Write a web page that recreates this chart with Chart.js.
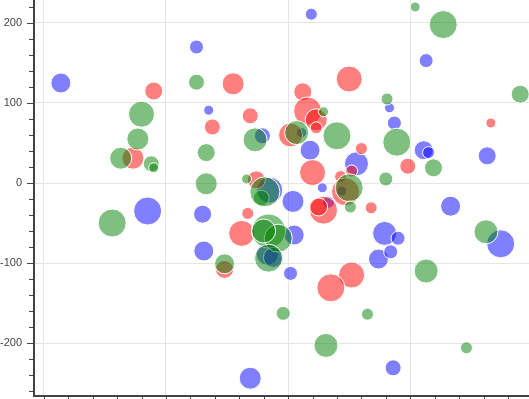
<!DOCTYPE html>
<html>
<head>
<meta charset="utf-8">
<script src="https://cdn.jsdelivr.net/npm/chart.js@4.4.1/dist/chart.umd.min.js"></script>
<style>
  html, body { margin: 0; padding: 0; background: #fff; overflow: hidden; }
  #wrap { width: 529px; height: 399px; }
</style>
</head>
<body>
<div id="wrap"><canvas id="chart" width="529" height="399"></canvas></div>
<script>
// bubbles: [x, y, radius]
const greenBubbles = [
  [104, 220, 5], [127, 198, 14], [190, 111, 9], [-75, 126, 8], [-120, 86, 13],
  [-123, 55, 11], [-137, 31, 11], [-112, 24, 8], [-110, 19, 5], [-67, 38, 9],
  [-67, -1, 11], [-27, 54, 12], [-34, 5, 5], [-144, -50, 14], [-52, -101, 10],
  [81, 105, 6], [40, 59, 14], [89, 51, 14], [119, 19, 9], [80, 5, 7],
  [162, -61, 12], [113, -110, 12], [-4, -163, 7], [65, -164, 6], [31, -203, 12],
  [146, -206, 6], [7, 63, 12], [29, 89, 5], [50, -6, 14], [51, -30, 6],
  [-16, -60, 17], [-8, -69, 14], [-20, -60, 12], [-16, -94, 14], [-22, -19, 8],
  [-19, -11, 15]
];
const redBubbles = [
  [-110, 115, 9], [-127, 31, 11], [-45, 124, 11], [-31, 84, 8], [-62, 70, 8],
  [50, 130, 13], [12, 114, 9], [16, 90, 14], [23, 79, 11], [23, 69, 6],
  [2, 60, 12], [60, 43, 6], [98, 21, 8], [166, 75, 5], [20, 13, 13],
  [43, 8, 6], [52, 15, 6], [47, -11, 14], [68, -31, 6], [29, -34, 14],
  [25, -30, 9], [-33, -38, 6], [-38, -63, 13], [-52, -108, 9], [52, -115, 13],
  [35, -131, 14], [-26, 4, 9]
];
const blueBubbles = [
  [-186, 125, 10], [-75, 170, 7], [19, 211, 6], [113, 153, 7], [-65, 91, 5],
  [-21, 59, 8], [83, 94, 5], [87, 75, 7], [111, 41, 9.5], [115, 38, 6],
  [163, 34, 9], [18, 41, 10], [56, 24, 12], [28, -6, 5], [-115, -35, 14],
  [-70, -39, 9], [-69, -85, 10], [4, -23, 11], [5, -65, 10], [2, -113, 7],
  [-17, -89, 11], [-12, -93, 10], [-15, -9, 13], [79, -63, 12], [90, -69, 7],
  [74, -95, 10], [84, -86, 7], [133, -29, 10], [174, -76, 14], [-31, -244, 11],
  [86, -231, 8], [11, 63, 5], [44, -10, 5], [33, -24, 6]
];

const xTicks = [-200, -100, 0, 100];
const yTicks = [-200, -100, 0, 100, 200];
const xRange = [-208, 197.2];
const yRange = [-266.25, 228.75];

const toPoints = list => list.map(([x, y, r]) => ({ x, y, r }));

// tick marks: major every 100, minor every 20
const tickMarks = {
  id: 'tickMarks',
  afterDraw(chart) {
    const ctx = chart.ctx;
    const { left, bottom } = chart.chartArea;
    const xs = chart.scales.x, ys = chart.scales.y;
    ctx.save();
    ctx.strokeStyle = '#444';
    ctx.lineWidth = 1;
    ctx.beginPath();
    for (let v = Math.ceil(ys.min / 20) * 20; v <= ys.max; v += 20) {
      const py = Math.round(ys.getPixelForValue(v)) + 0.5;
      const len = v % 100 === 0 ? 7 : 5;
      ctx.moveTo(left - len, py);
      ctx.lineTo(left, py);
    }
    for (let v = Math.ceil(xs.min / 20) * 20; v <= xs.max; v += 20) {
      const px = Math.round(xs.getPixelForValue(v)) + 0.5;
      const len = v % 100 === 0 ? 7 : 5;
      ctx.moveTo(px, bottom);
      ctx.lineTo(px, bottom + len);
    }
    ctx.stroke();
    ctx.restore();
  }
};

const bubbleStyle = { borderColor: '#fff', borderWidth: 1, hoverBorderWidth: 1 };

new Chart(document.getElementById('chart'), {
  type: 'bubble',
  data: {
    datasets: [
      { data: toPoints(greenBubbles), backgroundColor: 'rgba(0,128,0,0.5)', ...bubbleStyle },
      { data: toPoints(redBubbles), backgroundColor: 'rgba(255,0,0,0.5)', ...bubbleStyle },
      { data: toPoints(blueBubbles), backgroundColor: 'rgba(0,0,255,0.5)', ...bubbleStyle }
    ]
  },
  options: {
    responsive: false,
    animation: false,
    layout: { padding: 0, autoPadding: false },
    plugins: { legend: { display: false }, tooltip: { enabled: false } },
    scales: {
      x: {
        type: 'linear',
        min: xRange[0], max: xRange[1],
        afterBuildTicks: s => { s.ticks = xTicks.map(v => ({ value: v })); },
        afterFit: s => { s.height = 3; s.paddingLeft = 0; s.paddingRight = 0; },
        ticks: { display: false },
        grid: { color: '#e5e5e5', drawTicks: false },
        border: { color: '#444', width: 2 }
      },
      y: {
        type: 'linear',
        min: yRange[0], max: yRange[1],
        afterBuildTicks: s => { s.ticks = yTicks.map(v => ({ value: v })); },
        afterFit: s => { s.width = 34; s.paddingTop = 0; s.paddingBottom = 0; },
        ticks: { padding: 12, color: '#444', font: { family: 'Liberation Sans', size: 11 } },
        grid: { color: '#e5e5e5', drawTicks: false },
        border: { color: '#444', width: 2 }
      }
    }
  },
  plugins: [tickMarks]
});
</script>
</body>
</html>
